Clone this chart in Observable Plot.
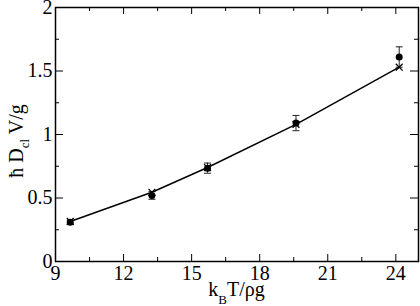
<!DOCTYPE html>
<html><head><meta charset="utf-8">
<script src="https://cdn.jsdelivr.net/npm/d3@7"></script>
<script src="https://cdn.jsdelivr.net/npm/@observablehq/plot@0.6"></script>
<style>body{margin:0;background:#fff} svg{display:block}</style>
</head><body><div id="chart"></div>
<script>
// data
const kT = [9.65, 13.25, 15.7, 19.6, 24.15];          // k_B T / rho g
const simulated = [0.315, 0.545, 0.74, 1.08, 1.53];   // crosses + line
const measured = [0.31, 0.52, 0.735, 1.09, 1.61];     // filled circles
const errors = [0.015, 0.03, 0.04, 0.06, 0.08];       // error bar half-heights
const xTicks = [9, 12, 15, 18, 21, 24];
const xMinor = [10.5, 13.5, 16.5, 19.5, 22.5];
const yTicks = [0, 0.5, 1, 1.5, 2];
const yMinor = [0.25, 0.75, 1.25, 1.75];

const data = kT.map((x, i) => ({x, sim: simulated[i], y: measured[i], lo: measured[i] - errors[i], hi: measured[i] + errors[i]}));

const W = 420, H = 306, mL = 55, mR = 2, mT = 7, mB = 45;
const pw = W - mL - mR, ph = H - mT - mB;
const font = "Liberation Serif";
const cap = {draw(ctx, size) { const r = Math.sqrt(size / Math.PI); ctx.moveTo(-r, 0); ctx.lineTo(r, 0); }};

const plot = Plot.plot({
  width: W, height: H, marginLeft: mL, marginRight: mR, marginTop: mT, marginBottom: mB,
  style: {fontFamily: "'Liberation Serif'", fontSize: "20px", background: "white", color: "black", overflow: "visible"},
  x: {domain: [9, 25]},
  y: {domain: [0, 2]},
  marks: [
    Plot.tickX(xTicks, {x: d => d, insetTop: ph - 7, stroke: "black"}),
    Plot.tickX(xTicks, {x: d => d, insetBottom: ph - 7, stroke: "black"}),
    Plot.tickX(xMinor, {x: d => d, insetTop: ph - 4, stroke: "black"}),
    Plot.tickX(xMinor, {x: d => d, insetBottom: ph - 4, stroke: "black"}),
    Plot.tickY(yTicks, {y: d => d, insetRight: pw - 8, stroke: "black"}),
    Plot.tickY(yTicks, {y: d => d, insetLeft: pw - 8, stroke: "black"}),
    Plot.tickY(yMinor, {y: d => d, insetRight: pw - 4, stroke: "black"}),
    Plot.tickY(yMinor, {y: d => d, insetLeft: pw - 4, stroke: "black"}),
    Plot.frame({stroke: "black", strokeWidth: 1.5}),
    Plot.axisX({ticks: xTicks, tickSize: 0, tickPadding: 4, label: null, fontSize: 20, tickFormat: d => String(d)}),
    Plot.axisY({ticks: yTicks, tickSize: 0, tickPadding: 3, label: null, fontSize: 20, tickFormat: d => String(d)}),
    Plot.ruleX(data, {x: "x", y1: "lo", y2: "hi", stroke: "#222", strokeWidth: 1}),
    Plot.dot(data, {x: "x", y: "lo", symbol: cap, r: 3.5, stroke: "#222", strokeWidth: 1}),
    Plot.dot(data, {x: "x", y: "hi", symbol: cap, r: 3.5, stroke: "#222", strokeWidth: 1}),
    Plot.line(data, {x: "x", y: "sim", stroke: "black", strokeWidth: 1.5}),
    Plot.dot(data, {x: "x", y: "sim", symbol: "times", r: 3.2, stroke: "black", strokeWidth: 1.3}),
    Plot.dot(data, {x: "x", y: "y", r: 3.5, fill: "black", stroke: "none"})
  ]
});

const svg = d3.select(plot);
const xl = svg.append("text")
  .attr("x", mL + pw / 2).attr("y", 296)
  .attr("text-anchor", "middle").attr("font-size", 20).attr("fill", "black");
xl.append("tspan").text("k");
xl.append("tspan").attr("font-size", 13).attr("dy", 8).text("B");
xl.append("tspan").attr("dy", -8).text("T/ρg");

const yl = svg.append("text")
  .attr("transform", "translate(23,141) rotate(-90)")
  .attr("text-anchor", "middle").attr("font-size", 20).attr("fill", "black");
yl.append("tspan").text("ħ D");
yl.append("tspan").attr("font-size", 13).attr("dy", 6).text("cl");
yl.append("tspan").attr("dy", -6).text(" V/g");

svg.attr("font-family", font);
svg.selectAll("g").attr("font-family", font);
svg.selectAll("text").attr("font-family", font).style("font-family", "'Liberation Serif'");

document.getElementById("chart").appendChild(plot);
</script>
</body></html>
